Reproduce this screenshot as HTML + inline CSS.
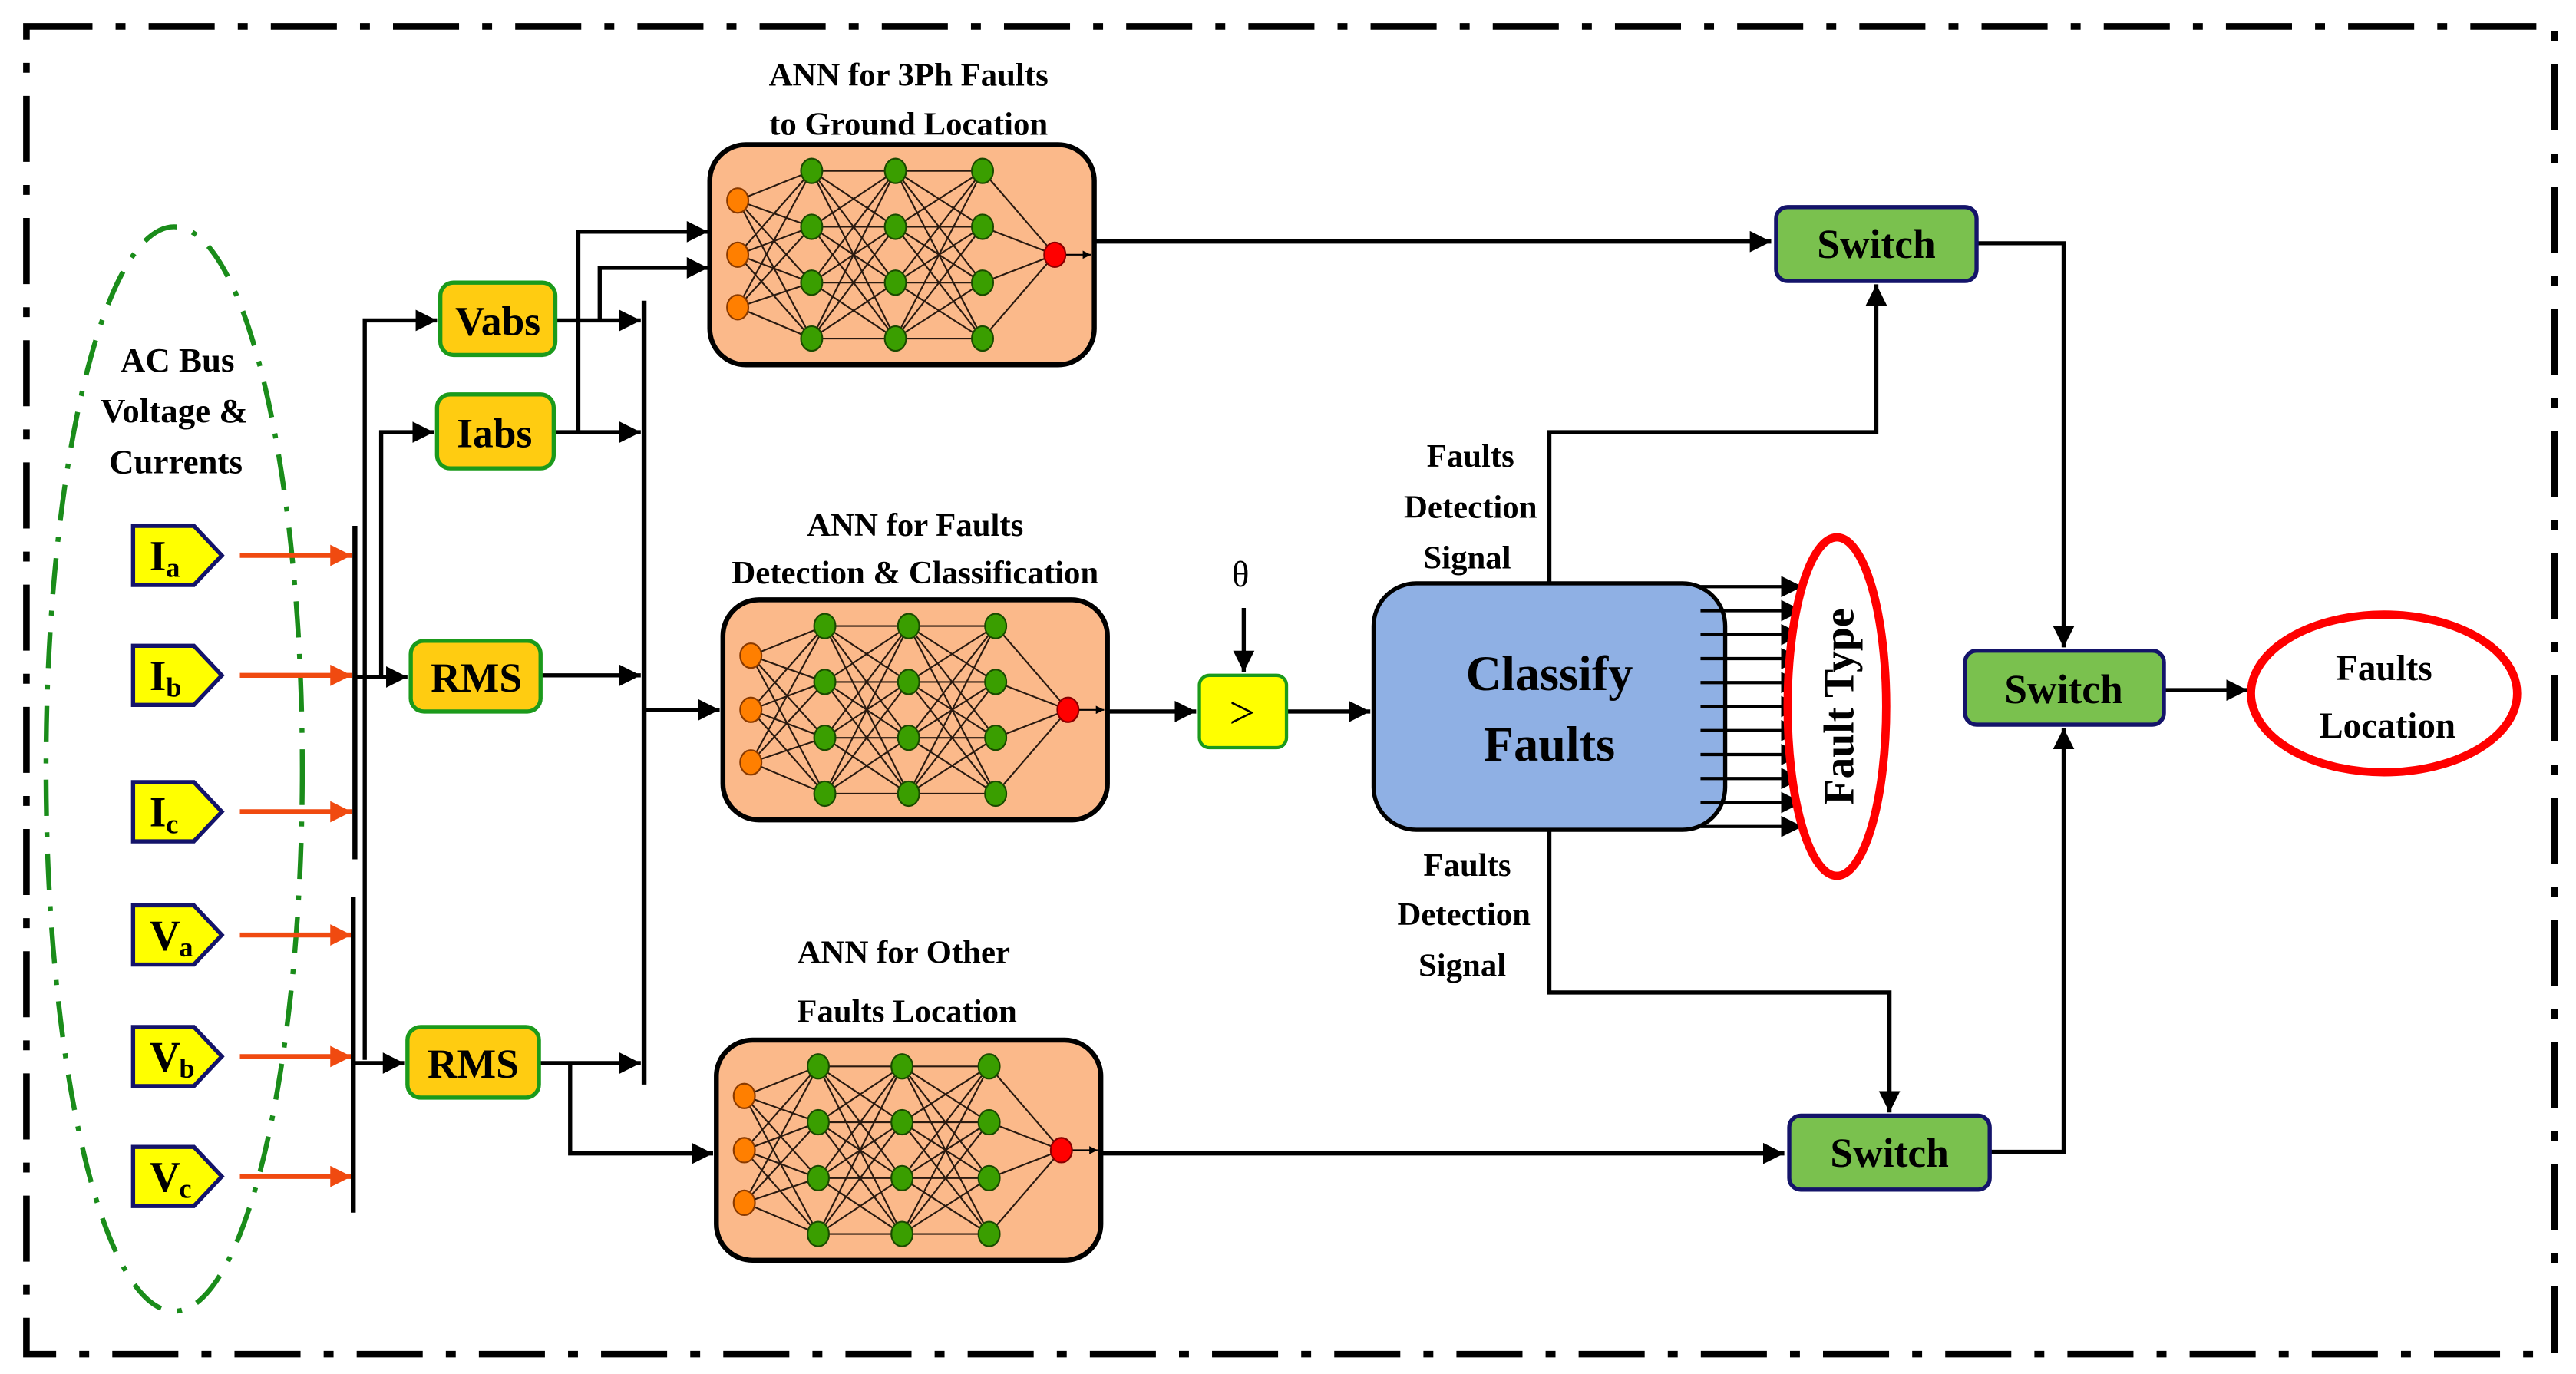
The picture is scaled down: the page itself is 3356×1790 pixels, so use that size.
<!DOCTYPE html>
<html><head><meta charset="utf-8"><style>
html,body{margin:0;padding:0;background:#fff;}
svg{display:block;}
svg text{font-family:"Liberation Serif","DejaVu Serif",serif !important;font-weight:bold;}
svg text.n{font-weight:normal;}
</style></head><body>
<svg id="s" xmlns="http://www.w3.org/2000/svg" width="3356" height="1790" viewBox="0 0 1560 832">
<defs>
<marker id="a" viewBox="0 0 10 10" refX="10" refY="5" markerWidth="5" markerHeight="5" orient="auto" markerUnits="userSpaceOnUse"><path d="M0,0L10,5L0,10z" fill="#000"/></marker>
<marker id="ab" viewBox="0 0 10 10" refX="10" refY="5" markerWidth="13" markerHeight="13" orient="auto" markerUnits="userSpaceOnUse"><path d="M0,0L10,5L0,10z" fill="#000"/></marker>
<marker id="ar" viewBox="0 0 10 10" refX="10" refY="5" markerWidth="13" markerHeight="13" orient="auto" markerUnits="userSpaceOnUse"><path d="M0,0L10,5L0,10z" fill="#f04a10"/></marker>
</defs>
<rect x="0" y="0" width="1560" height="832" fill="#fff"/>
<rect x="16" y="16" width="1531" height="804" fill="none" stroke="#000" stroke-width="4" stroke-dasharray="40 14 6 14"/>
<g transform="scale(0.995)">
<ellipse cx="106" cy="468" rx="78" ry="330" fill="none" stroke="#1a8c1a" stroke-width="3" stroke-dasharray="22 10 3 10"/>
<text x="108" y="226" font-size="21" text-anchor="middle">AC Bus</text>
<text x="106" y="257" font-size="21" text-anchor="middle">Voltage &amp;</text>
<text x="107" y="288" font-size="21" text-anchor="middle">Currents</text>

<g id="inputs"></g>

<g stroke="#000" fill="none" stroke-width="3">
<line x1="216" y1="320" x2="216" y2="523"/>
<line x1="215" y1="546" x2="215" y2="738"/>
<line x1="392" y1="183" x2="392" y2="660"/>
</g>
<g stroke="#000" fill="none" stroke-width="2.5" marker-end="url(#ab)">
<polyline points="222,645 222,195 266,195"/>
<polyline points="232,411 232,263 264,263"/>
<line x1="216" y1="412" x2="248" y2="412"/>
<line x1="215" y1="647" x2="246" y2="647"/>
<line x1="338" y1="195" x2="390" y2="195"/>
<line x1="337" y1="263" x2="390" y2="263"/>
<polyline points="352,263 352,141 431,141"/>
<polyline points="365,195 365,163 431,163"/>
<line x1="329" y1="411" x2="390" y2="411"/>
<line x1="328" y1="647" x2="390" y2="647"/>
<polyline points="347,647 347,702 434,702"/>
<line x1="392" y1="432" x2="438" y2="432"/>
<line x1="667" y1="147" x2="1078" y2="147"/>
<line x1="674" y1="433" x2="728" y2="433"/>
<line x1="757" y1="370" x2="757" y2="409"/>
<line x1="783" y1="433" x2="834" y2="433"/>
<polyline points="943,355 943,263 1142,263 1142,173"/>
<polyline points="943,505 943,604 1150,604 1150,677"/>
<line x1="670" y1="702" x2="1086" y2="702"/>
<polyline points="1203,148 1256,148 1256,394"/>
<polyline points="1211,701 1256,701 1256,443"/>
<line x1="1317" y1="420" x2="1368" y2="420"/>
</g>

<g stroke="#1b9a1b" stroke-width="2.5" fill="#ffcc11">
<rect x="268" y="172" width="70" height="44" rx="8"/>
<rect x="266" y="240" width="71" height="45" rx="8"/>
<rect x="250" y="390" width="79" height="43" rx="8"/>
<rect x="248" y="625" width="80" height="43" rx="8"/>
</g>
<text x="303" y="204" font-size="25" text-anchor="middle">Vabs</text>
<text x="301" y="272" font-size="25" text-anchor="middle">Iabs</text>
<text x="290" y="421" font-size="25" text-anchor="middle">RMS</text>
<text x="288" y="656" font-size="25" text-anchor="middle">RMS</text>

<g id="anns"></g>
<text x="553" y="52" font-size="20" text-anchor="middle">ANN for 3Ph Faults</text>
<text x="553" y="82" font-size="20" text-anchor="middle">to Ground  Location</text>
<text x="557" y="326" font-size="20" text-anchor="middle">ANN for Faults</text>
<text x="557" y="355" font-size="20" text-anchor="middle">Detection &amp; Classification</text>
<text x="550" y="586" font-size="20" text-anchor="middle">ANN for Other</text>
<text x="552" y="622" font-size="20" text-anchor="middle">Faults Location</text>

<rect x="730" y="411" width="53" height="44" rx="6" fill="#ffff00" stroke="#1b9a1b" stroke-width="2"/>
<text class="n" x="756" y="443" font-size="28" text-anchor="middle">&gt;</text>
<text class="n" x="755" y="357" font-size="22" text-anchor="middle">θ</text>

<rect x="836" y="355" width="214" height="150" rx="26" fill="#8fb0e4" stroke="#000" stroke-width="2.5"/>
<text x="943" y="420" font-size="30" text-anchor="middle">Classify</text>
<text x="943" y="463" font-size="30" text-anchor="middle">Faults</text>
<g id="ft" stroke="#000" stroke-width="2" marker-end="url(#ab)"></g>
<ellipse cx="1118" cy="430" rx="30" ry="103" fill="#fff" stroke="#f00" stroke-width="5"/>
<text x="0" y="0" font-size="26" text-anchor="middle" transform="translate(1128,430) rotate(-90)">Fault Type</text>

<text x="895" y="284" font-size="20" text-anchor="middle">Faults</text>
<text x="895" y="315" font-size="20" text-anchor="middle">Detection</text>
<text x="893" y="346" font-size="20" text-anchor="middle">Signal</text>
<text x="893" y="533" font-size="20" text-anchor="middle">Faults</text>
<text x="891" y="563" font-size="20" text-anchor="middle">Detection</text>
<text x="890" y="594" font-size="20" text-anchor="middle">Signal</text>

<g fill="#7ac14e" stroke="#14146a" stroke-width="2.5">
<rect x="1081" y="126" width="122" height="45" rx="7"/>
<rect x="1196" y="396" width="121" height="45" rx="7"/>
<rect x="1089" y="679" width="122" height="45" rx="7"/>
</g>
<text x="1142" y="157" font-size="25" text-anchor="middle">Switch</text>
<text x="1256" y="428" font-size="25" text-anchor="middle">Switch</text>
<text x="1150" y="710" font-size="25" text-anchor="middle">Switch</text>

<ellipse cx="1451" cy="422" rx="81" ry="48" fill="#fff" stroke="#f00" stroke-width="5"/>
<text x="1451" y="414" font-size="22" text-anchor="middle">Faults</text>
<text x="1453" y="449" font-size="22" text-anchor="middle">Location</text>
</g>
</svg>
<script>
var NS="http://www.w3.org/2000/svg";
function el(p,t,a){var e=document.createElementNS(NS,t);for(var k in a)e.setAttribute(k,a[k]);p.appendChild(e);return e;}
var inp=document.getElementById("inputs");
var ys=[338,411,494,569,643,716],labs=[["I","a"],["I","b"],["I","c"],["V","a"],["V","b"],["V","c"]];
ys.forEach(function(y,i){
 el(inp,"path",{d:"M81,"+(y-18)+"H118L135,"+y+"L118,"+(y+18)+"H81Z",fill:"#ffff00",stroke:"#14146a","stroke-width":"2.5"});
 var t=el(inp,"text",{x:91,y:y+9,"font-size":"26"});t.textContent=labs[i][0];
 var s=el(inp,"text",{x:(labs[i][0]=="I"?101:109),y:y+13,"font-size":"17"});s.textContent=labs[i][1];
 el(inp,"line",{x1:146,y1:y,x2:214,y2:y,stroke:"#f04a10","stroke-width":"3","marker-end":"url(#ar)"});
});
var g=document.getElementById("anns");
function ann(x,y){
 el(g,"rect",{x:x,y:y,width:234,height:134,rx:22,fill:"#fbb98a",stroke:"#000","stroke-width":"3"});
 var I=[[x+17,y+34],[x+17,y+67],[x+17,y+99]];
 var H=[[],[],[]],hx=[62,113,166],hy=[16,50,84,118];
 for(var c=0;c<3;c++)for(var r=0;r<4;r++)H[c].push([x+hx[c],y+hy[r]]);
 var O=[x+210,y+67];
 function ln(a,b){el(g,"line",{x1:a[0],y1:a[1],x2:b[0],y2:b[1],stroke:"#2a1a10","stroke-width":"1"});}
 I.forEach(function(a){H[0].forEach(function(b){ln(a,b);});});
 for(var c=0;c<2;c++)H[c].forEach(function(a){H[c+1].forEach(function(b){ln(a,b);});});
 H[2].forEach(function(a){ln(a,O);});
 el(g,"line",{x1:O[0],y1:O[1],x2:O[0]+22,y2:O[1],stroke:"#000","stroke-width":"1","marker-end":"url(#a)"});
 I.forEach(function(a){el(g,"ellipse",{cx:a[0],cy:a[1],rx:6.5,ry:7.5,fill:"#ff7f00",stroke:"#8a3a00","stroke-width":"1"});});
 H.forEach(function(cc){cc.forEach(function(a){el(g,"ellipse",{cx:a[0],cy:a[1],rx:6.5,ry:7.5,fill:"#3a9e00",stroke:"#1a4a00","stroke-width":"1"});});});
 el(g,"ellipse",{cx:O[0],cy:O[1],rx:6.5,ry:7.5,fill:"#ff0000",stroke:"#800","stroke-width":"1"});
}
ann(432,88);ann(440,365);ann(436,633);
var ft=document.getElementById("ft");
for(var i=0;i<11;i++){var y=357+i*14.6;el(ft,"line",{x1:1035,y1:y,x2:1097,y2:y});}
</script>
</body></html>
